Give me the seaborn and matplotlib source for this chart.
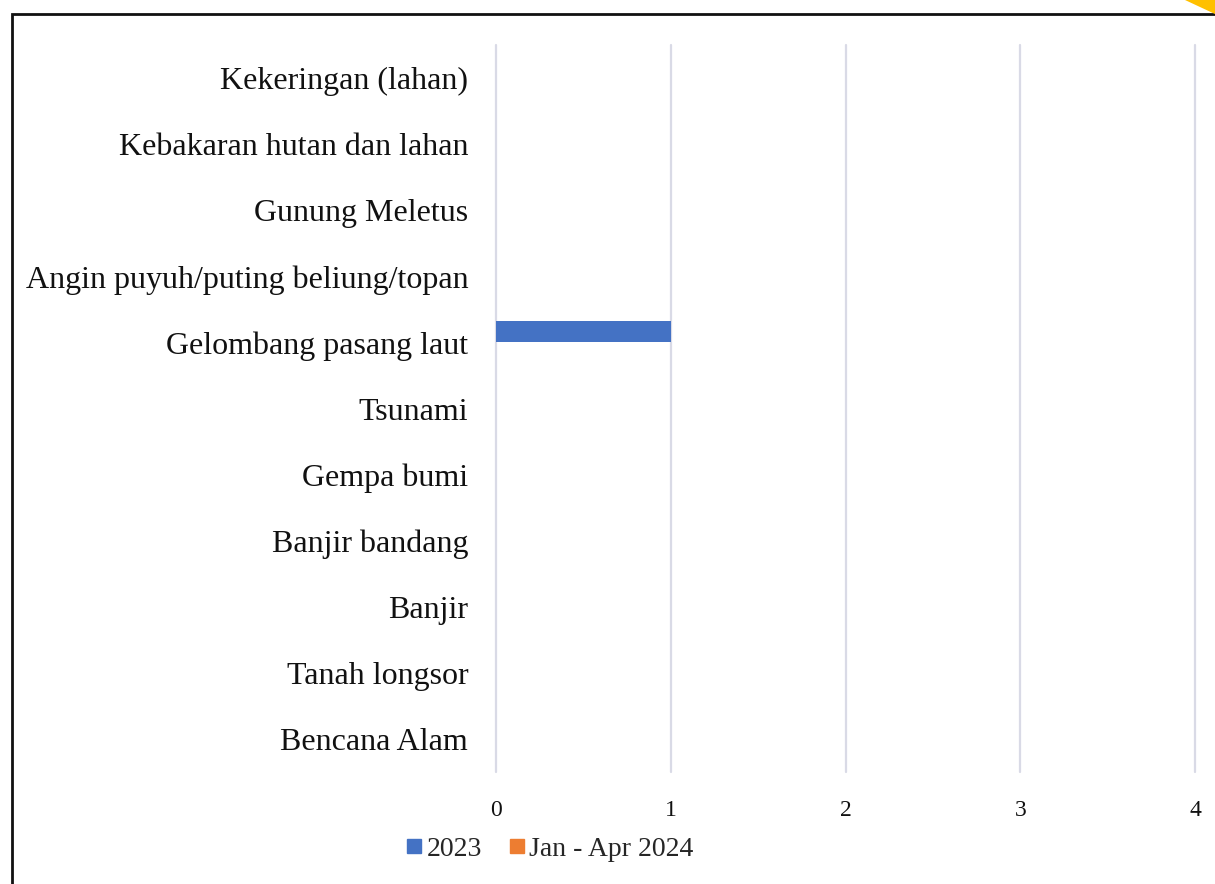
import numpy as np
import pandas as pd
import matplotlib
matplotlib.use('Agg')
import matplotlib.pyplot as plt
import seaborn as sns
from matplotlib.patches import Rectangle, Polygon
from matplotlib.lines import Line2D

# donnees
kategori = ["Kekeringan (lahan)", "Kebakaran hutan dan lahan", "Gunung Meletus",
            "Angin puyuh/puting beliung/topan", "Gelombang pasang laut", "Tsunami",
            "Gempa bumi", "Banjir bandang", "Banjir", "Tanah longsor", "Bencana Alam"]
nilai_2023 = [0, 0, 0, 0, 1, 0, 0, 0, 0, 0, 0]
nilai_2024 = [0, 0, 0, 0, 0, 0, 0, 0, 0, 0, 0]
seri = ["2023", "Jan - Apr 2024"]
warna = ["#4472C4", "#ED7D31"]
xticks = [0, 1, 2, 3, 4]

df = pd.DataFrame({
    "kategori": kategori * 2,
    "nilai": nilai_2023 + nilai_2024,
    "seri": [seri[0]] * len(kategori) + [seri[1]] * len(kategori),
})

sns.set_theme(style="white")
plt.rcParams['font.family'] = ['Liberation Serif', 'DejaVu Serif']

fig = plt.figure(figsize=(12.15, 8.84), dpi=100)
ax = fig.add_axes([496 / 1215, 1 - 772 / 884, (1195 - 496) / 1215, (772 - 45) / 884])

sns.barplot(data=df, x="nilai", y="kategori", hue="seri", order=kategori,
            hue_order=seri, palette=warna, width=0.66, orient="h",
            ax=ax, legend=False, saturation=1, linewidth=0)

ax.set_xlim(0, 4)
ax.set_ylim(len(kategori) - 0.5, -0.5)
ax.set_xticks(xticks)
ax.set_xticklabels([str(t) for t in xticks], fontsize=17)
ax.tick_params(axis='x', length=0, pad=20)
ax.tick_params(axis='y', length=0, pad=20, labelsize=23)
ax.set_xlabel("")
ax.set_ylabel("")
ax.grid(axis='x', color='#D9DAE6', linewidth=1.6)
for gl in ax.get_xgridlines():
    gl.set_clip_on(False)
ax.set_axisbelow(True)
for s in ax.spines.values():
    s.set_visible(False)
for lbl in ax.get_xticklabels() + ax.get_yticklabels():
    lbl.set_color('#111111')

# legende
handles = [Line2D([], [], marker='s', linestyle='', markersize=10, color=c) for c in warna]
fig.legend(handles, seri, loc='center', bbox_to_anchor=(549 / 1215, 1 - 849 / 884),
           ncol=2, frameon=False, fontsize=20, handletextpad=0.1, columnspacing=0.9,
           handlelength=0.7)

# cadre et coin jaune
fig.patches.append(Rectangle((12 / 1215, -0.1), 1.2, 1.1 - 14 / 884, transform=fig.transFigure,
                             fill=False, edgecolor='#111111', linewidth=2))
fig.patches.append(Polygon([(1185 / 1215, 1), (1, 1), (1, 1 - 14 / 884)],
                           closed=True, transform=fig.transFigure,
                           facecolor='#FFC000', edgecolor='none'))

fig.savefig("out.png", dpi=100, facecolor='white')
plt.close(fig)
